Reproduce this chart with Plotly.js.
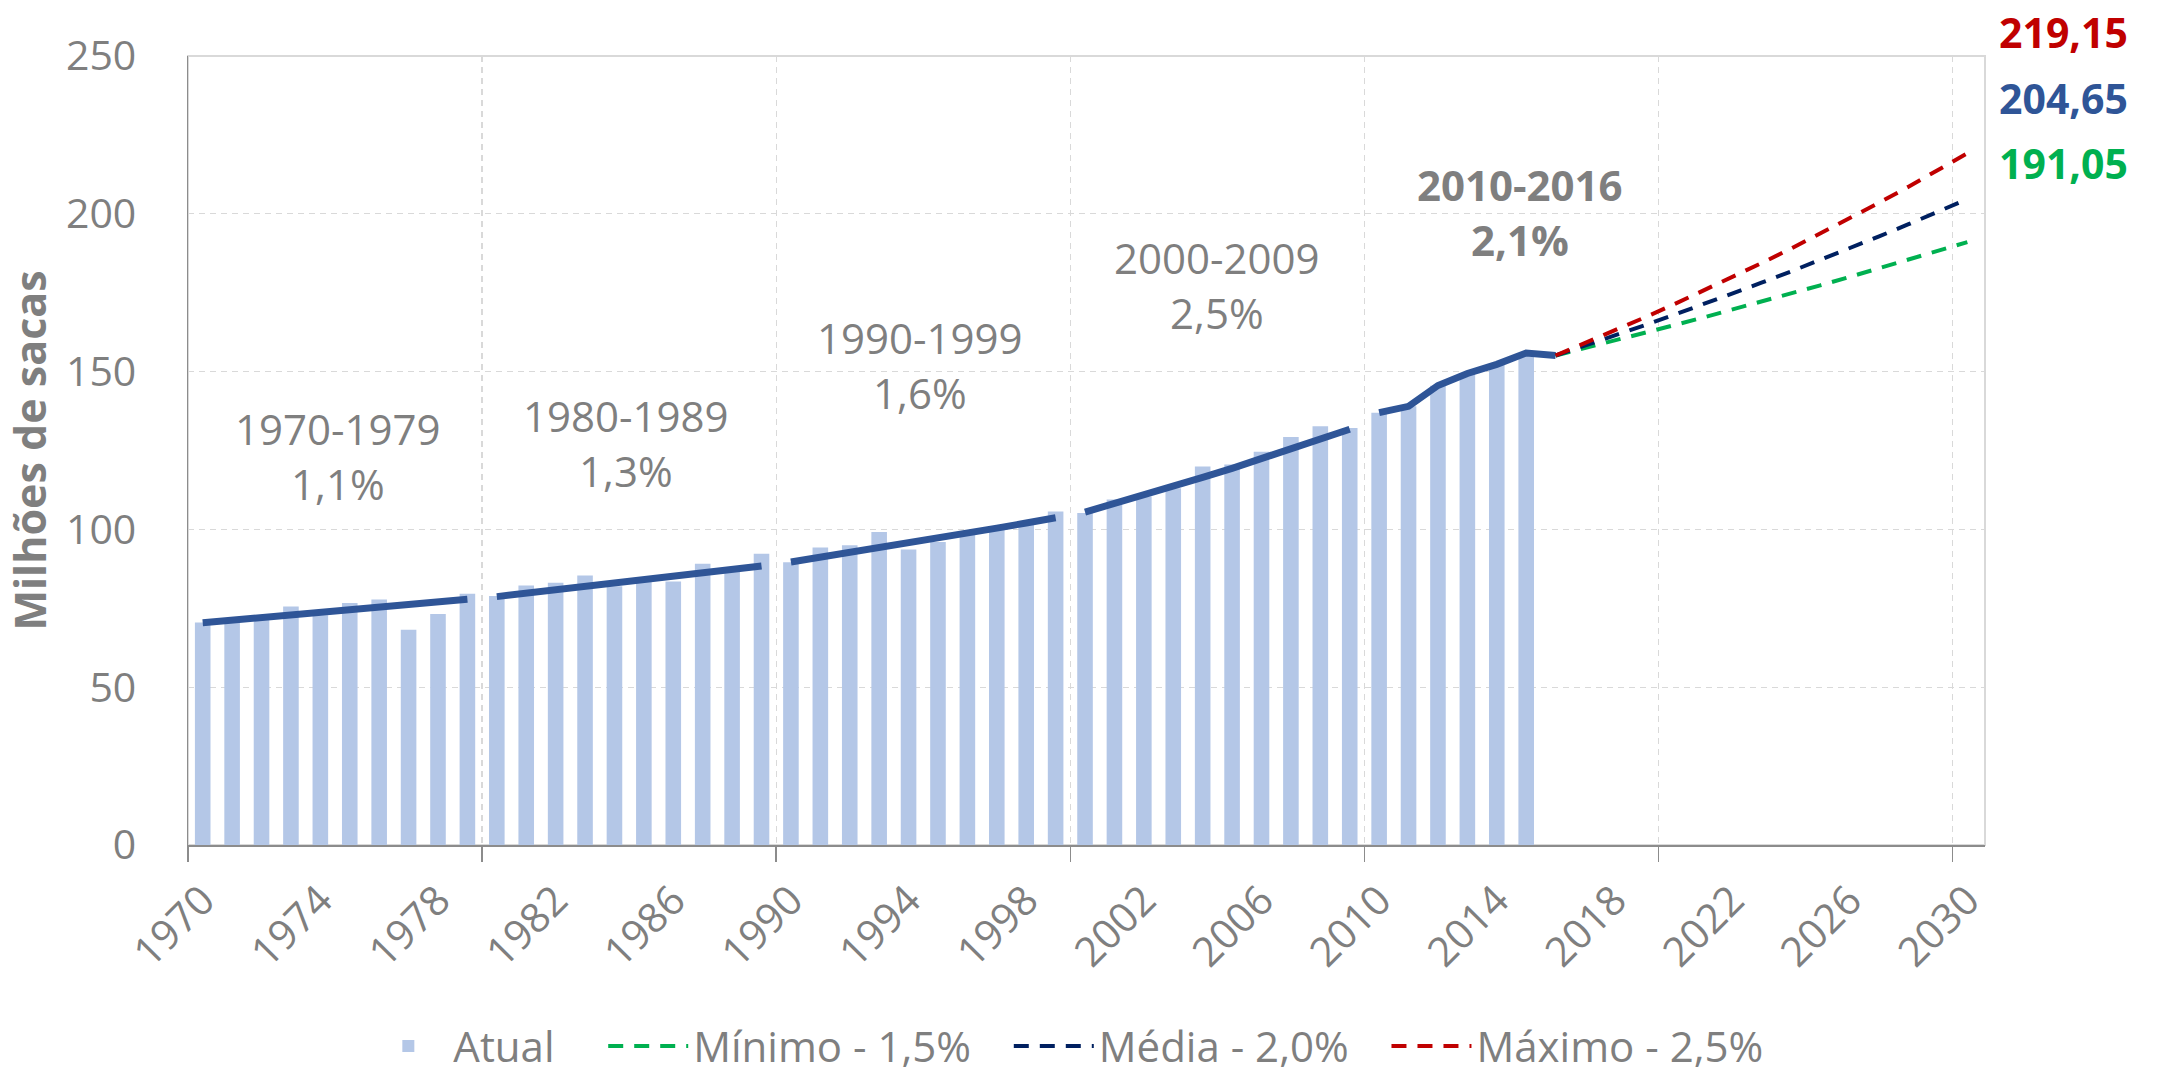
<!DOCTYPE html>
<html>
<head>
<meta charset="utf-8">
<script src="https://cdn.plot.ly/plotly-3.0.1.min.js"></script>
<style>html,body{margin:0;padding:0;background:#fff;}#chart{width:2159px;height:1078px;}</style>
</head>
<body>
<div id="chart"></div>
<script>
// ---- data ----
const years = [1970,1971,1972,1973,1974,1975,1976,1977,1978,1979,
  1980,1981,1982,1983,1984,1985,1986,1987,1988,1989,
  1990,1991,1992,1993,1994,1995,1996,1997,1998,1999,
  2000,2001,2002,2003,2004,2005,2006,2007,2008,2009,
  2010,2011,2012,2013,2014,2015];
const atual = [70.5,70.8,71.5,75.6,72.8,76.7,77.8,68.2,73.2,79.6,
  78.9,82.2,83.1,85.4,82.0,83.5,83.5,89.1,86.5,92.3,
  89.6,94.3,95.0,99.2,93.6,96.0,99.0,100.0,101.5,105.7,
  105.2,109.5,110.4,113.0,119.9,120.6,124.6,129.3,132.7,132.1,
  137.0,139.0,145.5,149.3,152.2,155.8];

const yrs70 = [1970,1971,1972,1973,1974,1975,1976,1977,1978,1979];
const trend70 = [70.40,71.20,72.00,72.81,73.63,74.46,75.30,76.15,77.01,77.88];
const yrs80 = [1980,1981,1982,1983,1984,1985,1986,1987,1988,1989];
const trend80 = [78.70,79.72,80.76,81.81,82.87,83.95,85.04,86.15,87.27,88.40];
const yrs90 = [1990,1991,1992,1993,1994,1995,1996,1997,1998,1999];
const trend90 = [89.65,91.11,92.60,94.11,95.64,97.20,98.78,100.39,102.03,103.69];
const yrs00 = [2000,2001,2002,2003,2004,2005,2006,2007,2008,2009];
const trend00 = [105.50,108.14,110.84,113.61,116.45,119.36,122.35,125.40,128.54,131.75];
const yrs10 = [2010,2011,2012,2013,2014,2015,2016];
const trend10 = [137.0,139.0,145.6,149.4,152.3,155.9,155.1];

const projYears = [2016,2017,2018,2019,2020,2021,2022,2023,2024,2025,2026,2027,2028,2029,2030];
const minimo = [155.10,157.43,159.79,162.19,164.62,167.09,169.59,172.14,174.72,177.34,180.00,182.70,185.44,188.22,191.05];
const media  = [155.10,158.20,161.37,164.59,167.89,171.24,174.67,178.16,181.72,185.36,189.07,192.85,196.70,200.64,204.65];
const maximo = [155.10,158.98,162.95,167.03,171.20,175.48,179.87,184.37,188.97,193.70,198.54,203.51,208.59,213.81,219.15];

const seriesNames = ['Atual', 'Mínimo - 1,5%', 'Média - 2,0%', 'Máximo - 2,5%'];
const labelYears = [1970,1974,1978,1982,1986,1990,1994,1998,2002,2006,2010,2014,2018,2022,2026,2030];
const gridYears = [1969.5,1979.5,1989.5,1999.5,2009.5,2019.5,2029.5];
const yTicks = [0,50,100,150,200,250];

const periodLabels = [
  {x:1974.6, y:123.3, text:'1970-1979<br>1,1%', bold:false},
  {x:1984.4, y:127.3, text:'1980-1989<br>1,3%', bold:false},
  {x:1994.4, y:152.0, text:'1990-1999<br>1,6%', bold:false},
  {x:2004.5, y:177.4, text:'2000-2009<br>2,5%', bold:false},
  {x:2014.8, y:200.7, text:'2010-2016<br>2,1%', bold:true}
];
const endValues = [
  {text:'219,15', color:'#c00000', y:1.030},
  {text:'204,65', color:'#2f5597', y:0.947},
  {text:'191,05', color:'#00b050', y:0.864}
];

// ---- styles ----
const GRAY = '#7f7f7f';
const FONT = 'Open Sans, Noto Sans, sans-serif';
const xRange = [1969.5, 2030.6];
const pad = n => '\u00a0'.repeat(n);

const traces = [
  {type:'bar', x:years, y:atual, name:seriesNames[0] + pad(4), width:0.53,
   marker:{color:'#b4c7e7'}, showlegend:true},
  {type:'scatter', mode:'lines', x:yrs70, y:trend70, line:{color:'#2f5597', width:7}, showlegend:false},
  {type:'scatter', mode:'lines', x:yrs80, y:trend80, line:{color:'#2f5597', width:7}, showlegend:false},
  {type:'scatter', mode:'lines', x:yrs90, y:trend90, line:{color:'#2f5597', width:7}, showlegend:false},
  {type:'scatter', mode:'lines', x:yrs00, y:trend00, line:{color:'#2f5597', width:7}, showlegend:false},
  {type:'scatter', mode:'lines', x:yrs10, y:trend10, line:{color:'#2f5597', width:7}, showlegend:false},
  {type:'scatter', mode:'lines', x:projYears, y:minimo, name:seriesNames[1] + pad(3), xaxis:'x2',
   line:{color:'#00b050', width:4, dash:'15px,11px'}},
  {type:'scatter', mode:'lines', x:projYears, y:media, name:seriesNames[2] + pad(3), xaxis:'x2',
   line:{color:'#002060', width:4, dash:'15px,11px'}},
  {type:'scatter', mode:'lines', x:projYears, y:maximo, name:seriesNames[3], xaxis:'x2',
   line:{color:'#c00000', width:4, dash:'15px,11px'}}
];

const annotations = [];
periodLabels.forEach(p => annotations.push({
  x:p.x, y:p.y, xref:'x', yref:'y', text:p.text, showarrow:false,
  font:{family:FONT, size:42, color:GRAY, weight:p.bold?700:400}, align:'center'
}));
endValues.forEach(e => annotations.push({
  x:1.0435, y:e.y, xref:'paper', yref:'paper', text:e.text, showarrow:false,
  xanchor:'center', yanchor:'middle', borderpad:0,
  font:{family:FONT, size:41, color:e.color, weight:700}
}));

const layout = {
  width:2159, height:1078,
  margin:{l:188, r:174, t:56, b:233, autoexpand:false},
  paper_bgcolor:'#ffffff', plot_bgcolor:'#ffffff',
  font:{family:FONT, color:GRAY, size:41},
  barmode:'overlay',
  showlegend:true,
  legend:{orientation:'h', x:0.4885, xanchor:'center', y:-0.255, yanchor:'middle',
          font:{family:FONT, size:42, color:GRAY}, itemwidth:80, traceorder:'normal'},
  xaxis:{range:xRange, tickvals:gridYears, showticklabels:false,
         showgrid:true, gridcolor:'#d9d9d9', griddash:'6px,5px', gridwidth:1.3,
         ticks:'outside', ticklen:15, tickcolor:'#8c8c8c', tickwidth:1.5,
         showline:true, linecolor:'#8c8c8c', linewidth:1.5, zeroline:false, fixedrange:true},
  xaxis2:{range:xRange, overlaying:'x', anchor:'y', side:'bottom',
          tickvals:labelYears, ticktext:labelYears.map(String), tickangle:-45,
          tickfont:{family:FONT, size:41, color:GRAY},
          showgrid:false, showline:false, ticks:'', ticklabelstandoff:22, zeroline:false},
  yaxis:{range:[0,250], tickvals:yTicks, ticktext:yTicks.map(String),
         tickfont:{family:FONT, size:41, color:GRAY},
         showgrid:true, gridcolor:'#d9d9d9', griddash:'6px,5px', gridwidth:1.3,
         showline:true, linecolor:'#8c8c8c', linewidth:1.5, ticks:'', ticklabelstandoff:42,
         zeroline:false,
         title:{text:'Milhões de sacas', standoff:30, font:{family:FONT, size:43, color:GRAY, weight:700}}},
  shapes:[{type:'rect', xref:'paper', yref:'paper', x0:0, x1:1, y0:0, y1:1,
           line:{color:'#d9d9d9', width:2}, layer:'below'}],
  annotations:annotations
};

Plotly.newPlot('chart', traces, layout, {displayModeBar:false, staticPlot:true});
</script>
</body>
</html>
